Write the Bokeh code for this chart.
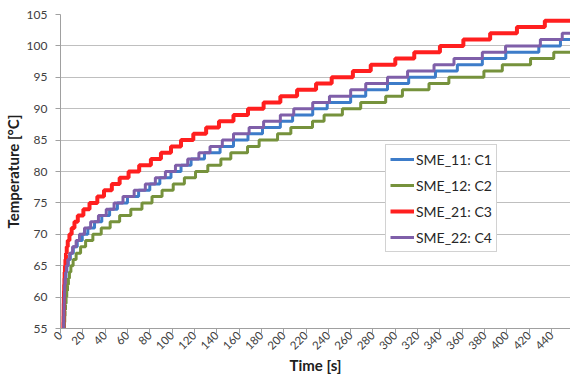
import math
from bokeh.plotting import figure
from bokeh.models import FixedTicker, Range1d, Legend, LegendItem
from bokeh.embed import file_html
from bokeh.resources import INLINE

# Time [s] at which each series first reaches the temperature listed in *_temps
c1_temps = list(range(55, 102))
c1_times = [2.8, 2.9, 3.0, 3.1, 3.25, 3.4, 3.6, 3.9, 4.3, 4.9, 5.7, 7.0, 8.8, 11.5, 15, 19.5,
            24.5, 30.5, 37, 44, 51, 60, 70, 80, 89, 99, 108, 117, 129, 143, 155, 168, 181,
            197, 208, 226, 239, 260, 273.5, 293, 312, 336, 355.6, 378, 399, 428.6, 448]

c2_temps = list(range(55, 100))
c2_times = [3.3, 3.5, 3.8, 4.1, 4.5, 5.0, 5.6, 6.3, 7.1, 8.0, 9.3, 11.3, 14, 18, 22.5, 29,
            36.5, 44.5, 53, 63, 73, 82, 91, 101, 111, 121, 132, 143.7, 152.6, 167.6, 178,
            194.5, 206.4, 225.8, 236.2, 252.6, 269, 291.4, 306.4, 330.2, 348, 379.4, 395.9,
            421.2, 442]

c3_temps = list(range(55, 105))
c3_times = [2.5, 2.6, 2.7, 2.8, 2.9, 3.0, 3.15, 3.3, 3.5, 3.7, 4.0, 4.4, 4.9, 5.6, 6.5, 8.0,
            10.0, 12.5, 15.5, 20.5, 26, 33, 39, 46, 53, 61, 70.5, 81, 90, 99, 108, 119, 130.5,
            142, 155, 168, 182, 197, 212, 229, 243, 262, 278, 300, 317, 340, 361, 385, 409, 434]

c4_temps = list(range(55, 103))
c4_times = [2.7, 2.8, 2.9, 3.0, 3.15, 3.3, 3.5, 3.7, 4.0, 4.5, 5.3, 6.5, 8.2, 10.8, 14, 17,
            21.5, 27, 34, 41, 48, 56, 66, 76, 85, 94, 103, 114, 124, 134, 145, 155, 169, 182,
            197, 209, 226, 241, 260, 273.5, 293, 311, 334.7, 352.6, 378, 398.8, 430, 449.6]

end_time = 457
series_names = ["SME_11: C1", "SME_12: C2", "SME_21: C3", "SME_22: C4"]
x_ticks = list(range(0, 441, 20))
y_ticks = list(range(55, 106, 5))

colors = ["#3D7CC9", "#76923C", "#FF1F1F", "#7F5FA9"]
widths = [3, 3, 4, 3]

p = figure(width=570, height=377, output_backend="svg", toolbar_location=None,
           x_range=Range1d(0, 457), y_range=Range1d(55, 105),
           min_border_left=60, min_border_right=0, min_border_top=14, min_border_bottom=20)
p.outline_line_color = None
p.background_fill_color = "white"
p.border_fill_color = "white"

p.xgrid.grid_line_color = None
p.ygrid.grid_line_color = "#BFBFBF"
p.ygrid.grid_line_width = 1.2

for ax in (p.xaxis[0], p.yaxis[0]):
    ax.axis_line_color = "#A0A0A0"
    ax.major_tick_line_color = "#A0A0A0"
    ax.major_tick_out = 5
    ax.major_tick_in = 0
    ax.minor_tick_line_color = None
    ax.major_label_text_font = "Lato"
    ax.major_label_text_color = "#404040"
    ax.axis_label_text_font = "Lato"
    ax.axis_label_text_font_style = "bold"
    ax.axis_label_text_font_size = "15px"
    ax.axis_label_text_color = "#202020"

p.yaxis.major_label_text_font_size = "12px"
p.xaxis.major_label_text_font_size = "11.5px"
p.xaxis.ticker = FixedTicker(ticks=x_ticks)
p.yaxis.ticker = FixedTicker(ticks=y_ticks)
p.xaxis.major_label_orientation = math.pi / 4
p.xaxis.major_label_standoff = 0
p.xaxis.axis_label_standoff = 0
p.yaxis.major_label_standoff = 8
p.yaxis.axis_label_standoff = 2
p.xaxis.axis_label = "Time [s]"
p.yaxis.axis_label = "Temperature [°C]"

items = []
all_times = [c1_times, c2_times, c3_times, c4_times]
all_temps = [c1_temps, c2_temps, c3_temps, c4_temps]
renderers = []
for times, temps, col, w in zip(all_times, all_temps, colors, widths):
    xs = times + [end_time]
    ys = temps + [temps[-1]]
    r = p.step(x=xs, y=ys, mode="after", line_color=col, line_width=w)
    renderers.append(r)

for name, r in zip(series_names, renderers):
    items.append(LegendItem(label=name, renderers=[r]))

legend = Legend(items=items, location=(325, 76), margin=0, padding=4, spacing=6,
                label_height=20, glyph_height=20, glyph_width=24, label_standoff=2,
                label_text_font="Lato", label_text_font_size="14px",
                label_text_color="#262626", border_line_color="#A6A6A6",
                border_line_width=1, background_fill_color="white", background_fill_alpha=1)
p.add_layout(legend, "center")

open("out.html", "w").write(file_html(p, INLINE))
